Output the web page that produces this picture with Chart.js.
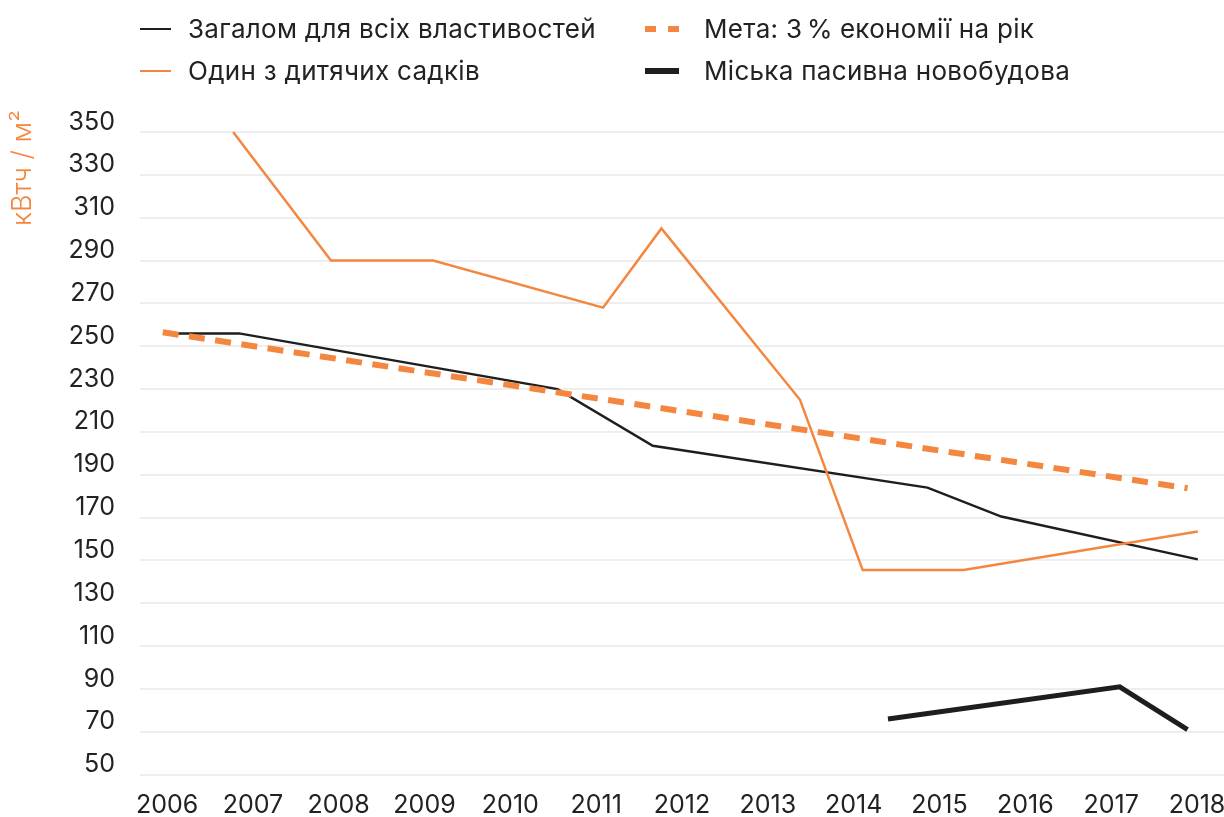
<!DOCTYPE html>
<html lang="uk">
<head>
<meta charset="utf-8">
<title>Споживання енергії</title>
<script src="https://cdn.jsdelivr.net/npm/chart.js@4.4.1/dist/chart.umd.min.js"></script>
<style>
  body { margin: 0; background: #fff; font-family: Inter, "Noto Sans", sans-serif; color: #222; }
  #wrap { position: relative; width: 1224px; height: 817px; overflow: hidden; }
  #chart { position: absolute; left: 0; top: 0; }
  .legend-item { position: absolute; height: 26px; line-height: 26px; font-size: 26px; letter-spacing: 0.3px; white-space: nowrap; }
  .legend-item .swatch { position: absolute; left: 0; }
  .legend-item .label { position: absolute; top: 0; }
  #ytitle { position: absolute; left: 8px; top: 226px; font-size: 27px; line-height: 27px; color: #f4873f;
            transform: rotate(-90deg); transform-origin: 0 0; white-space: nowrap; font-weight: 300; }
</style>
</head>
<body>
<div id="wrap">
  <canvas id="chart" width="1224" height="817"></canvas>
  <div id="legend"></div>
  <div id="ytitle">кВтч / м²</div>
</div>
<script>
// Роки на осі X
const years = [2006, 2007, 2008, 2009, 2010, 2011, 2012, 2013, 2014, 2015, 2016, 2017, 2018];
// Поділки осі Y
const yTicks = [50, 70, 90, 110, 130, 150, 170, 190, 210, 230, 250, 270, 290, 310, 330, 350];

// Загалом для всіх властивостей
const totalX = [2005.98, 2006.84, 2010.55, 2011.66, 2014.86, 2015.72, 2018.01];
const totalY = [256, 256, 230, 203.5, 184, 170.5, 150.5];

// Один з дитячих садків
const kinderX = [2006.77, 2007.91, 2009.10, 2011.08, 2011.76, 2013.375, 2014.105, 2015.28, 2018.01];
const kinderY = [350, 290, 290, 268, 305, 225, 145.5, 145.5, 163.5];

// Мета: 3 % економії на рік
const goalX = [2005.95, 2017.89];
const goalY = [256.5, 183.7];

// Міська пасивна новобудова
const passiveX = [2014.40, 2017.10, 2017.89];
const passiveY = [76, 91, 71];

const ORANGE = '#f4873f';
const BLACK = '#1e1e1e';

function toPoints(xs, ys) {
  return xs.map((x, i) => ({ x: x, y: ys[i] }));
}

const datasets = [
  { label: 'Загалом для всіх властивостей', data: toPoints(totalX, totalY),
    borderColor: BLACK, borderWidth: 2.5, order: 3 },
  { label: 'Мета: 3\u202F% економії на рік', data: toPoints(goalX, goalY),
    borderColor: ORANGE, borderWidth: 6, borderDash: [16, 10.5], order: 0 },
  { label: 'Один з дитячих садків', data: toPoints(kinderX, kinderY),
    borderColor: ORANGE, borderWidth: 2.5, order: 2 },
  { label: 'Міська пасивна новобудова', data: toPoints(passiveX, passiveY),
    borderColor: BLACK, borderWidth: 5, order: 1 }
];

datasets.forEach(ds => {
  ds.pointRadius = 0;
  ds.tension = 0;
  ds.fill = false;
  ds.clip = false;
  ds.borderJoinStyle = 'miter';
  ds.borderCapStyle = 'butt';
});

const tickFont = { family: 'Inter', size: 25, weight: 400 };

new Chart(document.getElementById('chart'), {
  type: 'line',
  data: { datasets: datasets },
  options: {
    responsive: false,
    animation: false,
    devicePixelRatio: 1,
    layout: { padding: { top: 132, left: 0, right: 0, bottom: 0 } },
    plugins: { legend: { display: false }, tooltip: { enabled: false } },
    scales: {
      x: {
        type: 'linear',
        min: 2005.685,
        max: 2018.315,
        grid: { display: false },
        border: { display: false },
        afterBuildTicks: axis => { axis.ticks = years.map(v => ({ value: v })); },
        afterFit: axis => {
          axis.height = 42.3;
          axis.paddingLeft = 0;
          axis.paddingRight = 0;
        },
        ticks: {
          color: '#222',
          font: tickFont,
          padding: 8,
          maxRotation: 0,
          autoSkip: false,
          callback: v => String(v)
        }
      },
      y: {
        min: 50,
        max: 350,
        grid: { color: '#eeeeee', lineWidth: 2, drawTicks: false },
        border: { display: false },
        afterBuildTicks: axis => { axis.ticks = yTicks.map(v => ({ value: v })); },
        afterFit: axis => {
          axis.width = 140;
          axis.paddingTop = 0;
          axis.paddingBottom = 0;
        },
        ticks: {
          color: '#222',
          font: tickFont,
          padding: 25,
          labelOffset: -10,
          callback: v => String(v)
        }
      }
    }
  }
});

// Легенда у дві колонки
const legendPlaces = [
  { left: 140, top: 16, text: 188 },
  { left: 645, top: 16, text: 704 },
  { left: 140, top: 58, text: 188 },
  { left: 645, top: 58, text: 704 }
];
const legend = document.getElementById('legend');
datasets.forEach((ds, i) => {
  const place = legendPlaces[i];
  const item = document.createElement('div');
  item.className = 'legend-item';
  item.style.left = '0px';
  item.style.top = place.top + 'px';

  const sw = document.createElement('div');
  sw.className = 'swatch';
  const w = i % 2 === 0 ? 31 : 34;
  const h = ds.borderWidth >= 5 ? 6 : 2.5;
  sw.style.left = place.left + 'px';
  sw.style.width = w + 'px';
  sw.style.height = h + 'px';
  sw.style.top = (13 - h / 2) + 'px';
  if (ds.borderDash) {
    sw.style.background = 'linear-gradient(to right, ' + ds.borderColor + ' 0 11px, transparent 11px 23px, ' + ds.borderColor + ' 23px 34px)';
  } else {
    sw.style.background = ds.borderColor;
  }
  item.appendChild(sw);

  const label = document.createElement('div');
  label.className = 'label';
  label.style.left = place.text + 'px';
  label.textContent = ds.label;
  item.appendChild(label);

  legend.appendChild(item);
});
</script>
</body>
</html>
